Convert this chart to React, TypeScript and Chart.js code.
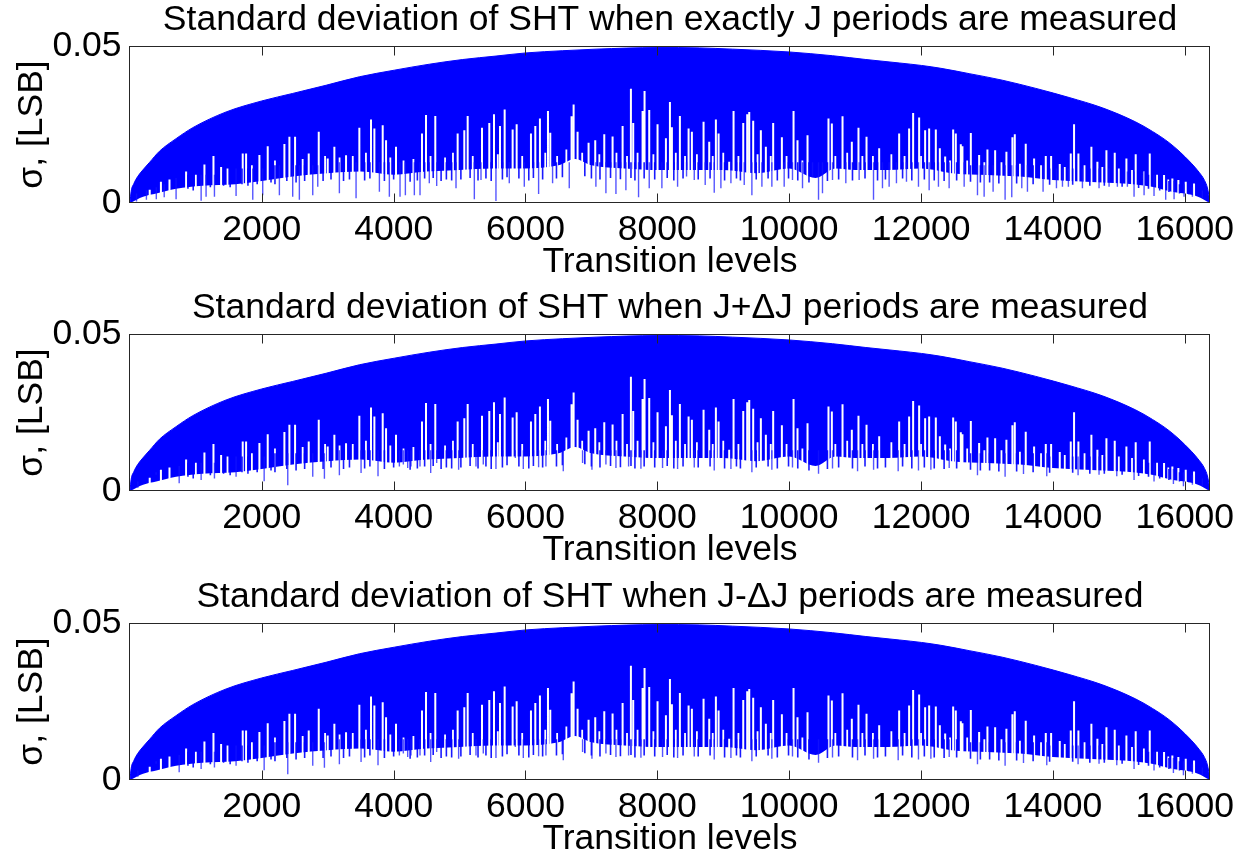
import React, { useEffect, useRef } from "react";
import { Chart, registerables } from "chart.js";

Chart.register(...registerables);

// ---------- text ----------
const panelTitles = [
  "Standard deviation of SHT when exactly J periods are measured",
  "Standard deviation of SHT when J+\u0394J periods are measured",
  "Standard deviation of SHT when J-\u0394J periods are measured",
];
const xAxisLabel = "Transition levels";
const yAxisLabel = "\u03c3, [LSB]";

// ---------- axes ----------
const xMin = 1;
const xMax = 16383;
const xTickValues = [2000, 4000, 6000, 8000, 10000, 12000, 14000, 16000];
const yMin = 0;
const yMax = 0.05;
const yTickValues = [0, 0.05];

// ---------- upper envelope of sigma (same in all three panels) ----------
const envLevels = [1, 18, 60, 120, 195, 300, 448, 700, 954, 1459, 2000, 2470, 2975, 3480, 4010, 4541, 5048, 5553, 6008, 6564, 7070, 8004, 8636, 9141, 10000, 10658, 11163, 11668, 12008, 12300, 12730, 13236, 13741, 14009, 14246, 14752, 15257, 15510, 15763, 16000, 16217, 16300, 16344, 16383];
const envSigma = [0.0, 0.0036, 0.0062, 0.0085, 0.0105, 0.013, 0.0165, 0.0205, 0.024, 0.029, 0.0325, 0.0349, 0.0375, 0.0402, 0.0423, 0.0442, 0.0457, 0.0468, 0.0478, 0.0485, 0.049, 0.0495, 0.0494, 0.049, 0.0481, 0.0469, 0.0457, 0.0446, 0.0438, 0.0429, 0.0412, 0.0391, 0.0365, 0.035, 0.0336, 0.0303, 0.0258, 0.0228, 0.0192, 0.0148, 0.0098, 0.0072, 0.0048, 0.0004];

// ---------- lower edge of the solid band ----------
const floorLevels = [1, 200, 400, 700, 1100, 1600, 2000, 2500, 3000, 3500, 4000, 4500, 5000, 5500, 6000, 6500, 6750, 7000, 7500, 8000, 8500, 9000, 9500, 10000, 10400, 10700, 11000, 11500, 12000, 12500, 13000, 13500, 14000, 14500, 15000, 15500, 15800, 16000, 16200, 16383];
const floorSigma = [0, 0.002, 0.003, 0.0045, 0.0055, 0.006, 0.007, 0.0085, 0.0095, 0.01, 0.009, 0.01, 0.0105, 0.011, 0.011, 0.012, 0.014, 0.012, 0.011, 0.0105, 0.0105, 0.0105, 0.0095, 0.011, 0.008, 0.011, 0.0105, 0.0105, 0.011, 0.0094, 0.0089, 0.0084, 0.0073, 0.0068, 0.0063, 0.0052, 0.0036, 0.003, 0.002, 0];

// ---------- isolated minima that stand up as white notches: [level, sigma] ----------
const notches: [number, number][] = [
  [300, 0.0042], [470, 0.0068], [600, 0.0075], [852, 0.01], [1130, 0.0123], [1267, 0.015], [1383, 0.0115], [1711, 0.0158], [1762, 0.0158], [1964, 0.0153],
  [2090, 0.0181], [2343, 0.0188], [2419, 0.0211], [2505, 0.0211], [2712, 0.0158], [2864, 0.0227], [3000, 0.0142], [3101, 0.0179], [3278, 0.0152], [3480, 0.024],
  [3657, 0.0266], [3708, 0.0237], [3834, 0.0248], [3885, 0.02], [4036, 0.0179], [4430, 0.0221], [4491, 0.028], [4632, 0.0277], [4971, 0.0221], [5072, 0.0232],
  [5123, 0.0277], [5340, 0.024], [5451, 0.0255], [5522, 0.0283], [5613, 0.0245], [5684, 0.0298], [5805, 0.0234], [5866, 0.0251], [6083, 0.0221], [6149, 0.0245],
  [6219, 0.0269], [6341, 0.0293], [6376, 0.0224], [6699, 0.0276], [6730, 0.0314], [6790, 0.0227], [6957, 0.0192], [7058, 0.02], [7195, 0.0219], [7321, 0.0212],
  [7473, 0.0245], [7599, 0.0364], [7634, 0.0255], [7776, 0.0293], [7806, 0.0357], [7877, 0.0296], [8003, 0.0251], [8130, 0.0206], [8191, 0.0322], [8221, 0.0241],
  [8342, 0.0277], [8474, 0.0237], [8524, 0.0227], [8701, 0.0259], [8787, 0.0195], [8888, 0.0266], [8929, 0.0221], [9090, 0.0131], [9156, 0.0293], [9303, 0.0255],
  [9363, 0.0283], [9394, 0.029], [9454, 0.0262], [9570, 0.0232], [9646, 0.0179], [9757, 0.0255], [9889, 0.0209], [10066, 0.0293], [10126, 0.02], [10278, 0.0216],
  [10596, 0.0269], [10647, 0.0253], [10809, 0.0276], [10950, 0.0195], [11051, 0.024], [11173, 0.0211], [11365, 0.0174], [11668, 0.0221], [11819, 0.0237], [11880, 0.0287],
  [11971, 0.0272], [12062, 0.0232], [12123, 0.0237], [12224, 0.0234], [12285, 0.0174], [12366, 0.0148], [12487, 0.0234], [12527, 0.0221], [12603, 0.0187], [12628, 0.0181],
  [12755, 0.0223], [12881, 0.0153], [13007, 0.017], [13124, 0.0168], [13295, 0.0163], [13386, 0.0209], [13422, 0.0219], [13588, 0.0189], [13715, 0.0142], [13892, 0.015],
  [13973, 0.015], [14104, 0.0124], [14271, 0.0158], [14321, 0.0251], [14387, 0.0158], [14584, 0.0179], [14675, 0.0131], [14812, 0.0168], [14938, 0.016], [15115, 0.0142],
  [15256, 0.0155], [15469, 0.0158], [15686, 0.0089], [15812, 0.0078], [15903, 0.0073], [16015, 0.0068], [16141, 0.0062],
];

// ---------- shorter white notches in the comb near the band's lower edge: [level, sigma] ----------
const combNotches: [number, number][] = [
  [1000, 0.009], [1480, 0.011], [1850, 0.012], [2200, 0.0135], [2620, 0.014], [2960, 0.015], [3180, 0.0145], [3380, 0.015], [3580, 0.016], [3950, 0.0145],
  [4150, 0.0135], [4300, 0.014], [4560, 0.015], [4780, 0.0145], [4900, 0.016], [5200, 0.015], [5580, 0.0155], [5950, 0.015], [6300, 0.016], [6480, 0.015],
  [6620, 0.017], [6860, 0.016], [7120, 0.0155], [7380, 0.016], [7540, 0.015], [7700, 0.016], [7940, 0.0155], [8280, 0.016], [8420, 0.015], [8600, 0.0155],
  [8840, 0.015], [9000, 0.016], [9230, 0.015], [9520, 0.0155], [9720, 0.015], [9960, 0.015], [10200, 0.0135], [10700, 0.015], [10880, 0.016], [11110, 0.015],
  [11270, 0.015], [11550, 0.0155], [11750, 0.015], [12000, 0.015], [12440, 0.0135], [12700, 0.0135], [12960, 0.013], [13220, 0.013], [13500, 0.0125], [13820, 0.012],
  [14180, 0.0115], [14480, 0.012], [14750, 0.0115], [15000, 0.011], [15200, 0.0105], [15380, 0.01], [15580, 0.009], [15750, 0.0075],
];

// ---------- isolated low samples (thin blue spikes): [level, low sigma, band sigma] ----------
const dipsExact: [number, number, number][] = [
  [100, 0.0005, 0.003], [250, 0.001, 0.004], [400, 0.0012, 0.005], [520, 0.0018, 0.006], [700, 0.0012, 0.008], [1080, 0.0007, 0.009], [1155, 0.002, 0.009], [1282, 0.002, 0.009],
  [1610, 0.0022, 0.011], [1863, 0.001, 0.011], [2014, 0.0025, 0.011], [2267, 0.0025, 0.012], [2469, 0.002, 0.012], [2570, 0.001, 0.012], [2773, 0.0025, 0.012], [2849, 0.0052, 0.012],
  [3177, 0.0031, 0.013], [3430, 0.0015, 0.013], [3784, 0.0036, 0.013], [3935, 0.002, 0.013], [4097, 0.002, 0.013], [4178, 0.0025, 0.013], [4314, 0.0025, 0.013], [4400, 0.0025, 0.013],
  [4541, 0.0063, 0.013], [4653, 0.0054, 0.013], [4946, 0.0047, 0.013], [5224, 0.0012, 0.013], [5325, 0.0073, 0.013], [5552, 0.0006, 0.013], [5754, 0.0063, 0.013], [5982, 0.0052, 0.013],
  [6199, 0.0029, 0.013], [6411, 0.0063, 0.013], [6664, 0.0047, 0.013], [7068, 0.0052, 0.013], [7220, 0.0031, 0.013], [7372, 0.0029, 0.013], [7523, 0.0041, 0.013], [7715, 0.0018, 0.013],
  [7877, 0.0047, 0.013], [8069, 0.0047, 0.013], [8307, 0.0052, 0.013], [8443, 0.0084, 0.013], [8560, 0.0073, 0.013], [8726, 0.0057, 0.013], [8863, 0.0033, 0.013], [8964, 0.0047, 0.013],
  [9116, 0.0063, 0.013], [9318, 0.0057, 0.013], [9434, 0.0025, 0.013], [9586, 0.0052, 0.013], [9737, 0.0052, 0.013], [9924, 0.0052, 0.013], [10050, 0.0073, 0.013], [10202, 0.0047, 0.013],
  [10354, 0.0084, 0.013], [10445, 0.001, 0.013], [10505, 0.0031, 0.013], [10657, 0.0073, 0.013], [10859, 0.0063, 0.013], [11061, 0.0073, 0.013], [11279, 0.001, 0.013], [11415, 0.0047, 0.013],
  [11516, 0.0052, 0.013], [11627, 0.0063, 0.013], [11779, 0.0068, 0.013], [11961, 0.0052, 0.013], [12123, 0.0041, 0.013], [12264, 0.0052, 0.013], [12426, 0.0047, 0.013], [12654, 0.0052, 0.013],
  [12856, 0.0025, 0.012], [12957, 0.002, 0.012], [13093, 0.0036, 0.012], [13275, 0.001, 0.012], [13376, 0.0018, 0.012], [13528, 0.0047, 0.012], [13614, 0.0036, 0.012], [13851, 0.0036, 0.012],
  [14054, 0.0047, 0.011], [14145, 0.0052, 0.011], [14235, 0.0052, 0.011], [14448, 0.0047, 0.011], [14700, 0.0047, 0.011], [14852, 0.0052, 0.011], [14978, 0.0052, 0.01], [15130, 0.0052, 0.01],
  [15231, 0.002, 0.01], [15383, 0.0025, 0.01], [15534, 0.0022, 0.009], [15711, 0.001, 0.008], [15838, 0.0012, 0.007], [15989, 0.002, 0.006], [16116, 0.002, 0.005], [16267, 0.0015, 0.004],
];

const dipsDelta: [number, number, number][] = [
  [120, 0.001, 0.003], [397, 0.0052, 0.006], [747, 0.0025, 0.008], [1080, 0.0035, 0.009], [1282, 0.004, 0.009], [1610, 0.0045, 0.011], [2036, 0.0031, 0.011], [2394, 0.0018, 0.012],
  [2773, 0.0045, 0.012], [2950, 0.0039, 0.012], [3177, 0.005, 0.013], [3506, 0.0057, 0.013], [3763, 0.0047, 0.013], [4087, 0.0078, 0.013], [4147, 0.0084, 0.013], [4213, 0.0073, 0.013],
  [4263, 0.0078, 0.013], [4400, 0.0078, 0.013], [4562, 0.0057, 0.013], [4653, 0.0089, 0.013], [4986, 0.0068, 0.013], [5249, 0.0078, 0.013], [5360, 0.0084, 0.013], [5552, 0.007, 0.013],
  [5845, 0.0105, 0.013], [5967, 0.007, 0.013], [6199, 0.0076, 0.013], [6310, 0.0078, 0.013], [6573, 0.0063, 0.013], [6866, 0.0089, 0.013], [7008, 0.0068, 0.013], [7220, 0.0084, 0.013],
  [7372, 0.0073, 0.013], [7564, 0.0078, 0.013], [7751, 0.0071, 0.013], [8079, 0.0073, 0.013], [8307, 0.007, 0.013], [8560, 0.0075, 0.013], [8863, 0.0065, 0.013], [9116, 0.007, 0.013],
  [9434, 0.006, 0.013], [9737, 0.0068, 0.013], [10050, 0.0075, 0.013], [10445, 0.0055, 0.013], [10657, 0.0072, 0.013], [11037, 0.0063, 0.013], [11280, 0.0068, 0.013], [11653, 0.0063, 0.013],
  [11961, 0.0065, 0.013], [12149, 0.0068, 0.013], [12427, 0.0073, 0.013], [12856, 0.005, 0.012], [13275, 0.0045, 0.012], [13554, 0.0054, 0.012], [13907, 0.0047, 0.012], [14382, 0.005, 0.011],
  [14700, 0.0052, 0.011], [14969, 0.0047, 0.01], [15231, 0.0035, 0.01], [15534, 0.003, 0.009], [15828, 0.0022, 0.007], [15980, 0.0015, 0.006], [16116, 0.002, 0.005], [16267, 0.0015, 0.004],
];

// ---------- shorter blue teeth hanging below the band (all panels): [level, low sigma, band sigma] ----------
const teeth: [number, number, number][] = [
  [880, 0.0045, 0.009], [960, 0.004, 0.009], [1220, 0.005, 0.009], [1420, 0.0055, 0.01], [1520, 0.005, 0.01], [1700, 0.006, 0.011], [1790, 0.0055, 0.011], [1930, 0.006, 0.011],
  [2140, 0.0065, 0.012], [2200, 0.006, 0.012], [2380, 0.007, 0.012], [2520, 0.0065, 0.012], [2650, 0.007, 0.012], [2930, 0.007, 0.013], [3050, 0.0075, 0.013], [3240, 0.007, 0.013],
  [3330, 0.0075, 0.013], [3560, 0.0072, 0.013], [3640, 0.0078, 0.013], [3860, 0.007, 0.013], [4000, 0.0075, 0.013], [4250, 0.0068, 0.013], [4360, 0.0072, 0.013], [4470, 0.0078, 0.013],
  [4600, 0.008, 0.013], [4720, 0.007, 0.013], [4800, 0.0075, 0.013], [4880, 0.0072, 0.013], [5020, 0.0075, 0.013], [5160, 0.008, 0.013], [5280, 0.0072, 0.013], [5400, 0.0078, 0.013],
  [5480, 0.007, 0.013], [5650, 0.0075, 0.013], [5720, 0.0082, 0.013], [5900, 0.0078, 0.013], [6050, 0.0072, 0.013], [6120, 0.008, 0.013], [6260, 0.0075, 0.013], [6470, 0.0078, 0.013],
  [6560, 0.0082, 0.014], [6900, 0.0085, 0.014], [7000, 0.0078, 0.013], [7130, 0.0075, 0.013], [7290, 0.008, 0.013], [7440, 0.0076, 0.013], [7600, 0.008, 0.013], [7660, 0.0072, 0.013],
  [7800, 0.0078, 0.013], [7960, 0.0075, 0.013], [8150, 0.008, 0.013], [8250, 0.0072, 0.013], [8390, 0.0078, 0.013], [8620, 0.0075, 0.013], [8800, 0.0078, 0.013], [9020, 0.0072, 0.013],
  [9200, 0.0078, 0.013], [9260, 0.0072, 0.013], [9500, 0.0075, 0.013], [9680, 0.0078, 0.013], [9820, 0.0072, 0.013], [9990, 0.0078, 0.013], [10130, 0.0072, 0.013], [10300, 0.0065, 0.013],
  [10580, 0.007, 0.013], [10750, 0.0075, 0.013], [10960, 0.0072, 0.013], [11150, 0.0078, 0.013], [11340, 0.0072, 0.013], [11460, 0.0075, 0.013], [11720, 0.0078, 0.013], [11860, 0.0072, 0.013],
  [12050, 0.0075, 0.013], [12200, 0.0072, 0.013], [12350, 0.007, 0.013], [12540, 0.0072, 0.013], [12750, 0.0068, 0.012], [12900, 0.0065, 0.012], [13040, 0.0065, 0.012], [13180, 0.0062, 0.012],
  [13450, 0.0062, 0.012], [13700, 0.006, 0.012], [13950, 0.0058, 0.011], [14300, 0.0058, 0.011], [14560, 0.0055, 0.011], [14780, 0.0055, 0.011], [15050, 0.0052, 0.01], [15300, 0.0048, 0.01],
  [15450, 0.0045, 0.009], [15620, 0.004, 0.008], [15760, 0.0035, 0.007], [15920, 0.003, 0.006], [16060, 0.0028, 0.005], [16200, 0.0022, 0.004],
];

const panelDips = [dipsExact, dipsDelta, dipsDelta];
const panelTops = [0, 288, 577];

const FONT = "'Liberation Sans', Arial, Helvetica, sans-serif";
const BLUE = "#0000ff";
const AXIS = "#262626";

const pairs = (xs: number[], ys: number[]) => xs.map((x, i) => ({ x, y: ys[i] }));
const verticals = (list: [number, number, number][]) =>
  list.flatMap(([x, a, b]) => [
    { x, y: a },
    { x, y: b },
    { x, y: null as any },
  ]);
const fromZero = (list: [number, number][]) => verticals(list.map(([x, v]) => [x, 0, v] as [number, number, number]));

const boxPlugin = {
  id: "matlabBox",
  afterDatasetsDraw(chart: any) {
    const { ctx, chartArea, scales } = chart;
    const { left, right, top, bottom } = chartArea;
    const xs = scales.x;
    ctx.save();
    ctx.strokeStyle = AXIS;
    ctx.lineWidth = 1;
    const l = Math.round(left) - 0.5;
    const r = Math.round(right) - 0.5;
    const t = Math.round(top) + 0.5;
    const b = Math.round(bottom) - 0.5;
    ctx.strokeRect(l, t, r - l, b - t);
    ctx.beginPath();
    for (const v of xTickValues) {
      const px = Math.round(xs.getPixelForValue(v)) + 0.5;
      ctx.moveTo(px, t);
      ctx.lineTo(px, t + 9);
      ctx.moveTo(px, b);
      ctx.lineTo(px, b - 9);
    }
    ctx.stroke();
    ctx.restore();
  },
};

function Panel({ index }: { index: number }) {
  const ref = useRef<HTMLCanvasElement | null>(null);
  useEffect(() => {
    if (!ref.current) return;
    const fontSpec = { family: FONT, size: 35.5, lineHeight: 1 };
    const line = { pointRadius: 0, fill: false, spanGaps: false };
    const chart = new Chart(ref.current, {
      type: "line",
      data: {
        datasets: [
          { ...line, data: verticals(panelDips[index]), borderColor: "rgba(20,20,255,0.72)", borderWidth: 1.4 },
          { ...line, data: verticals(teeth), borderColor: "rgba(0,0,255,0.9)", borderWidth: 1.6 },
          { ...line, data: fromZero(notches), borderColor: "#ffffff", borderWidth: 2 },
          { ...line, data: fromZero(combNotches), borderColor: "#ffffff", borderWidth: 1.8 },
          {
            data: pairs(floorLevels, floorSigma),
            borderColor: "rgba(0,0,0,0)",
            borderWidth: 0,
            backgroundColor: "#ffffff",
            pointRadius: 0,
            cubicInterpolationMode: "monotone",
            fill: "origin",
          },
          {
            data: pairs(envLevels, envSigma),
            borderColor: BLUE,
            borderWidth: 1,
            backgroundColor: BLUE,
            pointRadius: 0,
            cubicInterpolationMode: "monotone",
            fill: "origin",
          },
        ] as any,
      },
      options: {
        animation: false,
        responsive: false,
        events: [],
        layout: { padding: { left: 0, right: 40, top: 0, bottom: 0 } },
        plugins: {
          legend: { display: false },
          tooltip: { enabled: false },
          title: {
            display: true,
            text: panelTitles[index],
            fullSize: false,
            color: "#000",
            font: { ...fontSpec, weight: "normal" },
            padding: { top: 2, bottom: 8.5 },
          },
        },
        scales: {
          x: {
            type: "linear",
            min: xMin,
            max: xMax,
            grid: { display: false, drawTicks: false },
            border: { display: false },
            afterBuildTicks: (s: any) => {
              s.ticks = xTickValues.map((v) => ({ value: v }));
            },
            afterFit: (s: any) => {
              s.height = 85;
            },
            ticks: {
              autoSkip: false,
              maxRotation: 0,
              padding: 9,
              color: "#000",
              font: fontSpec,
              callback: (v: any) => String(v),
            },
            title: {
              display: true,
              text: xAxisLabel,
              color: "#000",
              font: fontSpec,
              padding: { top: 0, bottom: 8 },
            },
          },
          y: {
            type: "linear",
            min: yMin,
            max: yMax,
            grid: { display: false, drawTicks: false },
            border: { display: false },
            afterBuildTicks: (s: any) => {
              s.ticks = yTickValues.map((v) => ({ value: v }));
            },
            afterFit: (s: any) => {
              s.width = 130;
            },
            ticks: {
              padding: 8.5,
              color: "#000",
              font: fontSpec,
              callback: (v: any) => String(v),
            },
            title: {
              display: true,
              text: yAxisLabel,
              color: "#000",
              font: fontSpec,
              padding: { top: 14, bottom: 0 },
            },
          },
        },
      } as any,
      plugins: [boxPlugin],
    });
    return () => chart.destroy();
  }, [index]);
  return (
    <canvas
      ref={ref}
      width={1250}
      height={288}
      style={{ position: "absolute", left: 0, top: panelTops[index], width: 1250, height: 288 }}
    />
  );
}

export default function App() {
  return (
    <div
      style={{
        position: "fixed",
        left: 0,
        top: 0,
        width: 1250,
        height: 859,
        overflow: "hidden",
        background: "#ffffff",
      }}
    >
      <Panel index={0} />
      <Panel index={1} />
      <Panel index={2} />
    </div>
  );
}
